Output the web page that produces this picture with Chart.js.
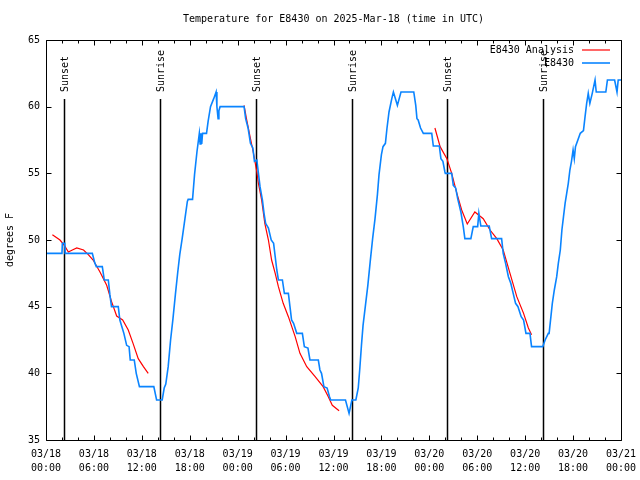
<!DOCTYPE html>
<html><head><meta charset="utf-8">
<script src="https://cdn.jsdelivr.net/npm/chart.js@4/dist/chart.umd.min.js"></script>
<style>html,body{margin:0;padding:0;background:#fff;}</style>
</head><body>
<canvas id="c" width="640" height="480"></canvas>
<script>
const titleText = 'Temperature for E8430 on 2025-Mar-18 (time in UTC)';
const yAxisLabel = 'degrees F';
const seriesNames = ['E8430 Analysis', 'E8430'];
const dayLabels = ['03/18', '03/19', '03/20', '03/21'];
const hourLabels = ['00:00', '06:00', '12:00', '18:00'];

// observations: hours since 03/18 00:00 UTC, degrees F
const obsTimes = [0,2.0,2.05,2.35,2.4,5.8,6.1,6.3,7.05,7.3,7.8,8.0,8.2,9.05,9.25,9.5,9.75,10.1,10.4,10.55,11.05,11.3,11.7,13.5,13.85,14.55,
 14.8,15.0,15.3,15.6,15.9,16.2,16.5,16.75,17.05,17.4,17.7,17.8,18.35,18.6,18.9,19.2,19.3,19.4,19.5,19.6,20.1,20.3,20.6,21.0,21.3,21.4,21.55,21.65,21.8,24.8,
 25.0,25.3,25.6,25.9,26.1,26.4,26.6,26.8,27.1,27.3,27.5,27.85,28.2,28.5,28.7,28.9,29.1,29.6,29.85,30.35,30.55,30.75,31.0,31.4,32.1,32.35,32.8,33.05,34.1,34.3,34.5,34.8,35.2,35.5,35.65,37.5,37.95,38.3,38.8,
 39.1,39.3,39.5,39.7,40.0,40.3,40.6,40.9,41.2,41.5,41.7,42.0,42.2,42.5,42.7,42.95,43.3,43.5,44.0,44.45,46.05,46.3,46.45,46.6,46.9,47.25,48.3,48.5,49.25,49.45,49.7,49.95,50.0,50.8,
 51.0,51.3,51.55,51.75,51.95,52.25,52.45,53.2,53.5,54.05,54.2,54.45,55.5,55.8,57.05,57.25,57.55,57.9,58.2,58.5,58.8,59.1,59.5,59.8,60.1,60.6,60.8,62.2,
 62.5,62.9,63.0,63.4,63.65,63.95,64.15,64.4,64.6,64.8,65.0,65.2,65.4,65.6,65.8,66.0,66.15,66.3,66.9,67.3,67.5,67.7,67.9,68.1,68.4,68.75,68.9,70.1,70.3,71.2,71.5,71.65,72];
const obsTemps = [49.0,49.0,49.75,49.75,49.0,49.0,48.3,48.0,48.0,47.0,47.0,45.9,45.0,45.0,44.0,43.5,43.0,42.1,42.0,41.0,41.0,40.0,39.0,39.0,38.0,38.0,
 38.9,39.2,40.5,42.5,44.1,45.9,47.6,48.9,50.1,51.6,52.9,53.05,53.05,54.9,56.6,58.0,57.2,58.0,57.2,58.0,58.0,58.9,60.0,60.6,61.1,60.0,59.1,59.7,60.0,60.0,
 59.1,58.4,57.25,56.9,55.9,56.0,55.0,54.0,53.0,52.0,51.25,50.9,50.0,49.75,48.75,47.75,47.0,47.0,46.0,46.0,45.0,44.0,43.75,43.0,43.0,42.0,41.9,41.0,41.0,40.25,40.0,39.0,38.9,38.25,38.0,38.0,37.0,38.0,38.0,
 38.9,40.4,42.1,43.6,45.1,46.6,48.4,50.1,51.6,53.4,54.9,56.4,57.0,57.25,58.4,59.6,60.6,61.1,60.1,61.1,61.1,60.1,59.1,59.0,58.4,58.0,58.0,57.05,57.05,56.1,55.9,55.1,55.0,55.0,
 54.1,53.9,53.1,52.6,52.1,51.0,50.1,50.1,51.0,51.0,52.0,51.05,51.05,50.1,50.1,49.0,48.25,47.25,46.75,46.0,45.25,45.0,44.25,44.0,43.0,43.0,42.0,42.0,
 42.5,43.0,43.0,45.25,46.25,47.25,48.25,49.25,50.75,51.75,52.75,53.5,54.25,55.25,55.9,56.75,56.1,57.0,58.0,58.2,59.25,60.25,61.0,60.25,61.0,62.0,61.1,61.1,62.0,62.0,61.1,62.0,62.0];

// analysis: three segments (null separates them)
const anaTimes = [0.8,1.75,2.3,2.8,3.3,3.85,4.7,5.3,5.9,6.76,7.6,8.2,8.85,9.6,10.3,10.9,11.55,12.2,12.8, 18,
 24.8,25.1,25.5,25.95,26.4,26.6,27.0,27.4,27.85,28.25,28.7,29.1,29.7,30.35,31.2,31.8,32.65,33.7,34.7,35.35,35.85,36.7, 42,
 48.7,49.35,50.2,50.8,51.45,52.05,52.75,53.7,54.75,55.6,56.45,57.25,58.1,58.95,59.8,60.4,60.8];
const anaTemps = [50.4,50.0,49.6,49.1,49.25,49.4,49.25,48.9,48.5,47.6,46.6,45.4,44.3,44.0,43.25,42.25,41.1,40.5,40.0, null,
 60.1,59.1,57.9,56.6,55.1,54.25,53.0,51.25,50.0,48.5,47.5,46.5,45.25,44.25,42.75,41.5,40.5,39.75,39.0,38.25,37.6,37.2, null,
 58.4,57.0,56.1,55.0,53.5,52.25,51.2,52.1,51.6,50.75,50.1,49.25,47.5,45.75,44.5,43.4,42.9];

const sunTimes = [2.29, 14.31, 26.34, 38.36, 50.25, 62.27];
const sunLabels = ['Sunset', 'Sunrise', 'Sunset', 'Sunrise', 'Sunset', 'Sunrise'];

const FONT_FAMILY = '"DejaVu Sans Mono", monospace';
const FONT = '10px ' + FONT_FAMILY;

const decor = {
  id: 'decor',
  beforeDatasetsDraw(chart) {
    const {ctx, chartArea: a, scales: {x}} = chart;
    ctx.save();
    sunTimes.forEach((t, i) => {
      const px = Math.round(x.getPixelForValue(t)) + 0.5;
      const top = a.top + 59;
      ctx.strokeStyle = '#000'; ctx.lineWidth = 1.5;
      ctx.beginPath(); ctx.moveTo(px, a.bottom); ctx.lineTo(px, top); ctx.stroke();
      ctx.save();
      ctx.translate(px + 1, top - 7);
      ctx.rotate(-Math.PI / 2);
      ctx.font = FONT; ctx.fillStyle = '#000';
      ctx.textAlign = 'left'; ctx.textBaseline = 'middle';
      ctx.fillText(sunLabels[i], 0, 0);
      ctx.restore();
    });
    ctx.restore();
  },
  afterDraw(chart) {
    const {ctx, chartArea: a, scales: {x, y}} = chart;
    ctx.save();
    ctx.strokeStyle = '#000'; ctx.lineWidth = 1;
    const L = Math.round(a.left) + 0.5, R = Math.round(a.right) + 0.5;
    const T = Math.round(a.top) + 0.5, B = Math.round(a.bottom) + 0.5;
    ctx.beginPath();
    ctx.moveTo(L, T); ctx.lineTo(R, T); ctx.lineTo(R, B); ctx.lineTo(L, B); ctx.closePath();
    for (let h = x.min; h <= x.max; h += 2) {
      const px = Math.round(x.getPixelForValue(h)) + 0.5;
      const len = (h % 6 === 0) ? 5 : 3;
      ctx.moveTo(px, B); ctx.lineTo(px, B - len);
      ctx.moveTo(px, T); ctx.lineTo(px, T + len);
    }
    for (let v = y.min; v <= y.max; v += 5) {
      const py = Math.round(y.getPixelForValue(v)) + 0.5;
      ctx.moveTo(L, py); ctx.lineTo(L + 5, py);
      ctx.moveTo(R, py); ctx.lineTo(R - 5, py);
    }
    ctx.stroke();

    ctx.fillStyle = '#000'; ctx.font = FONT;
    ctx.textAlign = 'center'; ctx.textBaseline = 'middle';
    ctx.fillText(titleText, (a.left + a.right) / 2, 19);

    ctx.save();
    ctx.translate(10, (a.top + a.bottom) / 2);
    ctx.rotate(-Math.PI / 2);
    ctx.fillText(yAxisLabel, 0, 0);
    ctx.restore();

    // legend
    const rows = [chart.data.datasets.find(d => d.label === seriesNames[0]), chart.data.datasets.find(d => d.label === seriesNames[1])];
    rows.forEach((ds, i) => {
      const ly = a.top + 10 + i * 13;
      ctx.textAlign = 'right'; ctx.fillStyle = '#000';
      ctx.fillText(ds.label, a.right - 47, ly);
      ctx.strokeStyle = ds.borderColor; ctx.lineWidth = ds.legendWidth;
      ctx.beginPath(); ctx.moveTo(a.right - 39, ly); ctx.lineTo(a.right - 11, ly); ctx.stroke();
    });
    ctx.restore();
  }
};

const obsPoints = obsTimes.map((t, i) => ({x: t, y: obsTemps[i]}));
const anaPoints = anaTimes.map((t, i) => ({x: t, y: anaTemps[i]}));

new Chart(document.getElementById('c'), {
  type: 'line',
  data: {
    datasets: [
      {label: seriesNames[0], data: anaPoints, borderColor: '#ff0000', borderWidth: 1.2, legendWidth: 1.2,
       pointRadius: 0, tension: 0, spanGaps: false, order: 1},
      {label: seriesNames[1], data: obsPoints, borderColor: '#0a84ff', borderWidth: 1.6, legendWidth: 1.6,
       pointRadius: 0, tension: 0, order: 0}
    ]
  },
  options: {
    responsive: false,
    animation: false,
    devicePixelRatio: 1,
    layout: {padding: {top: 40, right: 19, left: 0, bottom: 0}},
    plugins: {legend: {display: false}, tooltip: {enabled: false}, title: {display: false}},
    scales: {
      x: {
        type: 'linear', min: 0, max: 72,
        grid: {display: false, drawTicks: false}, border: {display: false},
        ticks: {
          stepSize: 6, autoSkip: false, maxRotation: 0, minRotation: 0, padding: 8, color: '#000',
          font: {family: FONT_FAMILY, size: 10, lineHeight: 1.35},
          callback: (v) => [dayLabels[Math.floor(v / 24)], hourLabels[(v % 24) / 6]]
        },
        afterFit: (s) => { s.height = 40; s.paddingLeft = 0; s.paddingRight = 0; }
      },
      y: {
        min: 35, max: 65,
        grid: {display: false, drawTicks: false}, border: {display: false},
        ticks: {stepSize: 5, padding: 6, color: '#000', font: {family: FONT_FAMILY, size: 10}},
        afterFit: (s) => { s.width = 46; s.paddingTop = 0; s.paddingBottom = 0; }
      }
    }
  },
  plugins: [decor]
});
</script>
</body></html>
